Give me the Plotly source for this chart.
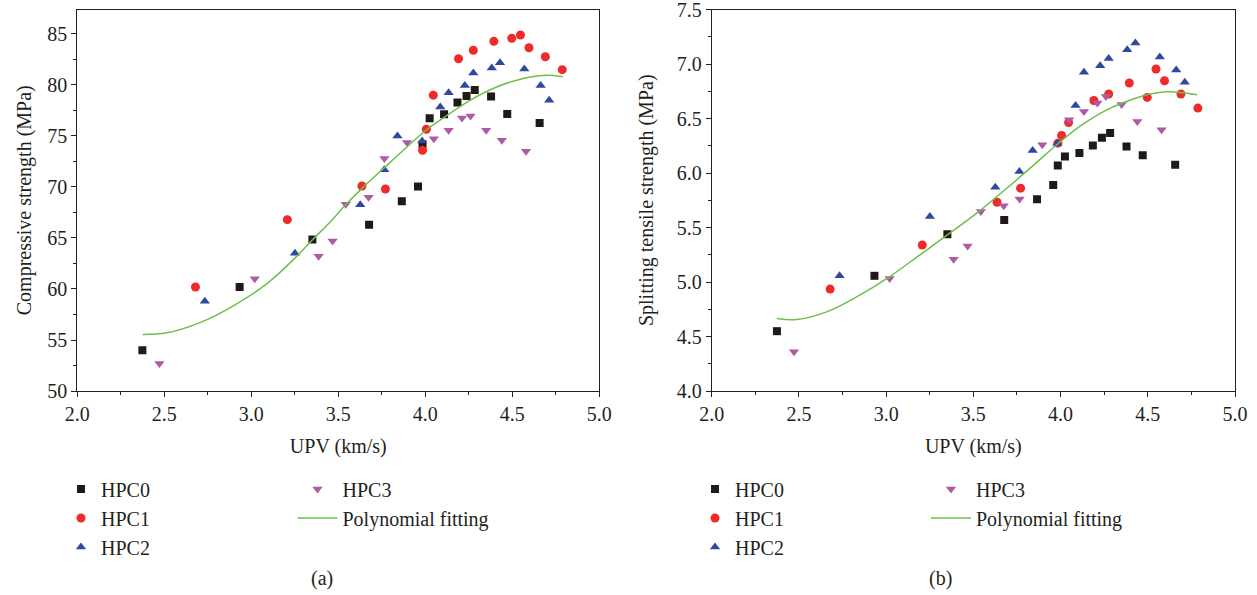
import plotly.graph_objects as go

# ---------------- data ----------------
x_hpc0 = [2.374, 2.933, 3.351, 3.677, 3.865, 3.958, 3.984, 4.025, 4.108, 4.185, 4.237, 4.284, 4.378, 4.471, 4.657]
cs_hpc0 = [54.0, 60.2, 64.85, 66.3, 68.6, 70.05, 74.2, 76.74, 77.13, 78.28, 78.93, 79.5, 78.87, 77.16, 76.28]
sts_hpc0 = [4.549, 5.057, 5.438, 5.569, 5.76, 5.891, 6.069, 6.151, 6.183, 6.253, 6.323, 6.367, 6.243, 6.164, 6.075]

x_hpc1 = [2.679, 3.207, 3.636, 3.771, 3.984, 4.006, 4.046, 4.191, 4.276, 4.394, 4.497, 4.547, 4.596, 4.690, 4.787]
cs_hpc1 = [60.2, 66.8, 70.1, 69.8, 73.6, 75.66, 79.0, 82.57, 83.4, 84.28, 84.58, 84.9, 83.65, 82.77, 81.5]
sts_hpc1 = [4.935, 5.34, 5.732, 5.861, 6.274, 6.345, 6.464, 6.666, 6.725, 6.826, 6.694, 6.955, 6.847, 6.725, 6.596]

x_hpc2 = [2.733, 3.251, 3.626, 3.764, 3.840, 3.982, 4.086, 4.134, 4.227, 4.276, 4.382, 4.429, 4.569, 4.663, 4.712]
cs_hpc2 = [58.8, 63.5, 68.25, 71.7, 75.0, 74.5, 77.85, 79.23, 79.95, 81.17, 81.66, 82.18, 81.56, 79.95, 78.5]
sts_hpc2 = [5.057, 5.60, 5.87, 6.013, 6.206, 6.27, 6.62, 6.924, 6.985, 7.05, 7.132, 7.194, 7.065, 6.946, 6.832]

x_hpc3 = [2.472, 3.020, 3.387, 3.467, 3.543, 3.674, 3.765, 3.895, 4.049, 4.134, 4.211, 4.260, 4.350, 4.440, 4.579]
cs_hpc3 = [52.7, 61.0, 63.2, 64.7, 68.3, 69.0, 72.8, 74.35, 74.74, 75.56, 76.77, 76.97, 75.56, 74.58, 73.5]
sts_hpc3 = [4.359, 5.033, 5.21, 5.33, 5.646, 5.70, 5.762, 6.259, 6.489, 6.565, 6.642, 6.703, 6.629, 6.473, 6.397]

fit_cs_x = [2.376, 2.514, 2.705, 2.897, 3.088, 3.255, 3.356, 3.452, 3.548, 3.644, 3.768, 3.893, 4.004, 4.123, 4.257, 4.410, 4.563, 4.678, 4.79]
fit_cs_y = [55.55, 55.7, 56.7, 58.35, 60.5, 63.1, 64.9, 66.55, 68.35, 69.99, 71.95, 73.9, 75.56, 77.0, 78.5, 79.8, 80.64, 80.94, 80.8]

fit_sts_x = [2.374, 2.487, 2.659, 2.831, 3.019, 3.194, 3.349, 3.542, 3.691, 3.844, 3.978, 4.112, 4.265, 4.380, 4.494, 4.609, 4.685, 4.783]
fit_sts_y = [4.665, 4.656, 4.726, 4.864, 5.048, 5.25, 5.43, 5.66, 5.86, 6.07, 6.26, 6.43, 6.58, 6.657, 6.719, 6.746, 6.74, 6.719]

series_names = ["HPC0", "HPC1", "HPC2", "HPC3"]
fit_name = "Polynomial fitting"
panel_labels = ["(a)", "(b)"]
x_title = "UPV (km/s)"
y_titles = ["Compressive strength (MPa)", "Splitting tensile strength (MPa)"]

# ---------------- style ----------------
FONT = "Liberation Serif, Times New Roman, serif"
TXT = "#231f20"
colors = ["#1f1a17", "#ee2a2b", "#2f4a9c", "#b05aa6"]
symbols = ["square", "circle", "triangle-up", "triangle-down"]
sizes = [8, 9, 9, 9]
GREEN = "#6cc04a"

W, H = 1257, 595
def px_x(p): return p / W
def px_y(p): return (H - p) / H

fig = go.Figure()

xs = [x_hpc0, x_hpc1, x_hpc2, x_hpc3]
cs = [cs_hpc0, cs_hpc1, cs_hpc2, cs_hpc3]
sts = [sts_hpc0, sts_hpc1, sts_hpc2, sts_hpc3]

for panel, (ydata, fx, fy, xa, ya) in enumerate([
        (cs, fit_cs_x, fit_cs_y, "x", "y"),
        (sts, fit_sts_x, fit_sts_y, "x2", "y2")]):
    leg_a = "legend" if panel == 0 else "legend3"
    leg_b = "legend2" if panel == 0 else "legend4"
    for i in range(4):
        fig.add_trace(go.Scatter(
            x=xs[i], y=ydata[i], mode="markers", name=series_names[i],
            marker=dict(symbol=symbols[i], size=sizes[i], color=colors[i], line=dict(width=0)),
            xaxis=xa, yaxis=ya, legend=leg_a if i < 3 else leg_b))
    fig.add_trace(go.Scatter(
        x=fx, y=fy, mode="lines", name=fit_name, line=dict(color=GREEN, width=1.5, shape="spline"),
        xaxis=xa, yaxis=ya, legend=leg_b))

axis_common = dict(
    showline=True, linecolor=TXT, linewidth=1, mirror=True,
    ticks="outside", ticklen=5, tickwidth=1, tickcolor=TXT,
    showgrid=False, zeroline=False, automargin=False, ticklabeloverflow="allow",
    tickfont=dict(family=FONT, size=20, color=TXT),
    minor=dict(ticks="outside", ticklen=3, tickwidth=1, tickcolor=TXT, showgrid=False),
)

y_top, y_bot = 9.5, 391
fig.update_layout(
    width=W, height=H,
    margin=dict(l=0, r=0, t=0, b=0, autoexpand=False),
    paper_bgcolor="white", plot_bgcolor="white",
    font=dict(family=FONT, color=TXT, size=20),
    showlegend=True,
    xaxis=dict(domain=[px_x(77.3), px_x(599.3)], range=[2, 5], dtick=0.5, tick0=2,
               tickformat=".1f", anchor="y",
               title=dict(text=x_title, font=dict(family=FONT, size=20, color=TXT), standoff=14),
               **axis_common),
    yaxis=dict(domain=[px_y(y_bot), px_y(y_top)], range=[50, 87.4], dtick=5, tick0=50,
               anchor="x",
               title=dict(text=y_titles[0], font=dict(family=FONT, size=20, color=TXT), standoff=10),
               **axis_common),
    xaxis2=dict(domain=[px_x(711.7), px_x(1235)], range=[2, 5], dtick=0.5, tick0=2,
                tickformat=".1f", anchor="y2",
                title=dict(text=x_title, font=dict(family=FONT, size=20, color=TXT), standoff=14),
                **axis_common),
    yaxis2=dict(domain=[px_y(y_bot), px_y(y_top)], range=[4.0, 7.5005], dtick=0.5, tick0=4,
                tickformat=".1f", anchor="x2",
                title=dict(text=y_titles[1], font=dict(family=FONT, size=20, color=TXT), standoff=17),
                **axis_common),
)
fig.layout.xaxis.minor.dtick = 0.25
fig.layout.xaxis2.minor.dtick = 0.25
fig.layout.yaxis.minor.dtick = 2.5
fig.layout.yaxis2.minor.dtick = 0.25

leg_common = dict(bgcolor="rgba(0,0,0,0)", borderwidth=0, orientation="v",
                  font=dict(family=FONT, size=20, color=TXT),
                  xanchor="left", yanchor="top", tracegroupgap=0, itemclick=False)
legend_top = px_y(469.5)
fig.update_layout(
    legend=dict(x=px_x(61), y=legend_top, **leg_common),
    legend2=dict(x=px_x(292.5), y=legend_top, itemwidth=40, **leg_common),
    legend3=dict(x=px_x(695), y=legend_top, **leg_common),
    legend4=dict(x=px_x(926), y=legend_top, itemwidth=40, **leg_common),
)

for lbl, cx in zip(panel_labels, [322, 940]):
    fig.add_annotation(text=lbl, x=px_x(cx), y=px_y(578), xref="paper", yref="paper",
                       showarrow=False, xanchor="center", yanchor="middle",
                       font=dict(family=FONT, size=20, color=TXT))

fig.write_html("out.html")
